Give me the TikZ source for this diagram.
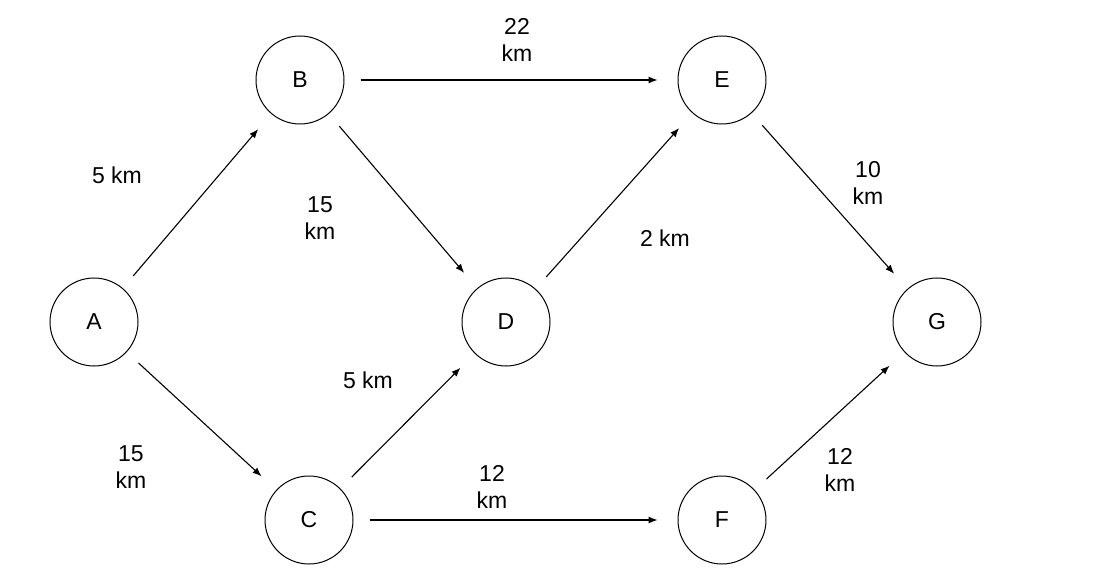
\documentclass[tikz,border=0pt]{standalone}
\usepackage{fontspec}
\setmainfont{Liberation Sans}
\usetikzlibrary{arrows.meta}
\begin{document}
\begin{tikzpicture}[x=1pt,y=-1pt,
  vert/.style={circle,draw,line width=1pt,minimum size=88pt,inner sep=0pt,font=\fontsize{23}{27}\selectfont},
  edge/.style={line width=1.1pt,-{Latex[length=9pt,width=7pt]},shorten <=16pt,shorten >=20pt},
  lbl/.style={align=center,font=\fontsize{23}{27}\selectfont}]
\useasboundingbox (0,0) rectangle (1106,588);
\node[vert] (A) at (94,322) {A};
\node[vert] (B) at (300,80) {B};
\node[vert] (E) at (722,80) {E};
\node[vert] (D) at (506,322) {D};
\node[vert] (G) at (937,322) {G};
\node[vert] (C) at (309,520) {C};
\node[vert] (F) at (722,520) {F};
\draw[edge] (A) -- (B);
\draw[edge] (A) -- (C);
\draw[edge] (B) -- (E);
\draw[edge] (B) -- (D);
\draw[edge] (C) -- (D);
\draw[edge] (C) -- (F);
\draw[edge] (D) -- (E);
\draw[edge] (E) -- (G);
\draw[edge] (F) -- (G);
\node[lbl] (l1) at (117,175) {5 km};
\node[lbl] (l2) at (320,218) {15\\km};
\node[lbl] (l3) at (517,40) {22\\km};
\node[lbl] (l4) at (868,183) {10\\km};
\node[lbl] (l5) at (665,238) {2 km};
\node[lbl] (l6) at (368,380) {5 km};
\node[lbl] (l7) at (131,467) {15\\km};
\node[lbl] (l8) at (492,487) {12\\km};
\node[lbl] (l9) at (840,470) {12\\km};
\end{tikzpicture}
\end{document}
